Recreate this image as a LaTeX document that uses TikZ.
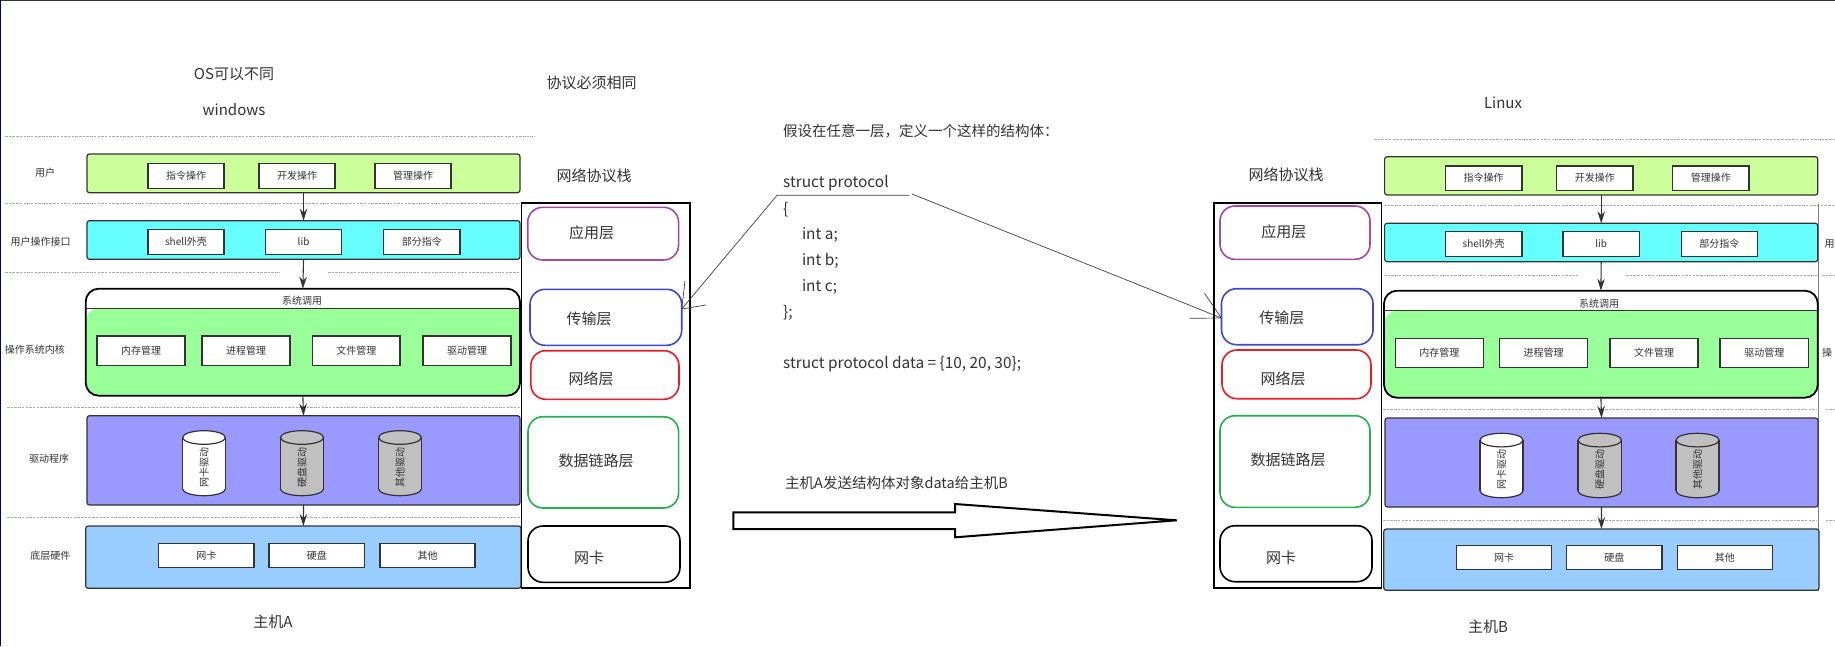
\documentclass[tikz,border=0pt]{standalone}
\usepackage{fontspec}
\setmainfont{Noto Sans CJK SC}
\usetikzlibrary{arrows.meta}
\definecolor{ink}{HTML}{333333}
\definecolor{lime}{HTML}{CCFF99}
\definecolor{aqua}{HTML}{66FFFF}
\definecolor{mint}{HTML}{99FF99}
\definecolor{violet2}{HTML}{9999FF}
\definecolor{sky}{HTML}{99CCFF}
\definecolor{cylgray}{HTML}{C0C0C0}
\definecolor{lapp}{HTML}{A349A4}
\definecolor{ltrs}{HTML}{3F48CC}
\definecolor{lnet}{HTML}{ED1C24}
\definecolor{ldl}{HTML}{22B14C}
\newcommand{\fs}[1]{\fontsize{#1}{#1}\selectfont}
\newcommand{\bx}[7]{%
  \pgfmathsetmacro{\bw}{#5-#3}\pgfmathsetmacro{\bh}{#6-#4}%
  \node[#2,minimum width=\bw pt,minimum height=\bh pt] (#1) at ({(#3+#5)/2},{(#4+#6)/2}) {#7};}
% name, fill, x1, x2, y1, y2, text
\newcommand{\cyl}[7]{%
  \pgfmathsetmacro{\cxc}{(#3+#4)/2}\pgfmathsetmacro{\crx}{(#4-#3)/2}%
  \pgfmathsetmacro{\cyt}{#5+6.8}\pgfmathsetmacro{\cyb}{#6-6.8}\pgfmathsetmacro{\cym}{(#5+#6)/2+4}%
  \draw[cylline,fill=#2] (\cxc,\cyb) ellipse [x radius=\crx pt,y radius=6.8pt];
  \fill[#2] (#3,\cyt) rectangle (#4,\cyb);
  \draw[cylline] (#3,\cyt) -- (#3,\cyb) (#4,\cyt) -- (#4,\cyb);
  \draw[cylline,fill=#2] (\cxc,\cyt) ellipse [x radius=\crx pt,y radius=6.8pt];
  \node[label,rotate=90] (#1) at (\cxc,\cym) {#7};}
\tikzset{
  band/.style={draw=ink,line width=1.2pt,rounded corners=2.5pt,inner sep=0pt,outer sep=0pt},
  inbox/.style={draw=ink,line width=1.2pt,fill=white,inner sep=0pt,outer sep=0pt,font=\fs{10},text=ink},
  layer/.style={line width=1.6pt,rounded corners=15pt,inner sep=0pt,outer sep=0pt},
  label/.style={font=\fs{10},text=ink,inner sep=0pt},
  title/.style={font=\fs{15},text=ink,inner sep=0pt},
  code/.style={font=\fs{14.5},text=ink,inner sep=0pt,anchor=west},
  codel/.style={font=\fs{15.4},text=ink,inner sep=0pt,anchor=west},
  divider/.style={draw=black!33,line width=0.8pt,dash pattern=on 2.5pt off 1.2pt},
  flow/.style={draw=ink,line width=1.1pt,-{Stealth[length=12pt,width=7.5pt]}},
  stackframe/.style={draw=black,line width=1.8pt,inner sep=0pt,outer sep=0pt},
  thin pointer/.style={draw=black!75,line width=0.7pt},
  cylline/.style={draw=ink,line width=1.2pt},
}
\begin{document}
\begin{tikzpicture}[x=1pt,y=-1pt]
\useasboundingbox (0,0) rectangle (1835,646);
\clip (0,0) rectangle (1835,646);
\fill[white] (0,0) rectangle (1835,646);
% frame edges of the screenshot
\draw[draw=black!80,line width=1.6pt] (0,0.5) -- (1835,0.5);
\draw[draw=blue!40!black,line width=1.6pt] (0.5,0) -- (0.5,646);

% ---------- host A ----------
\node[title] (osA) at (234,74) {OS可以不同};
\node[title] (winA) at (234,110) {windows};
\node[title] (protoT) at (591.5,83) {协议必须相同};
\draw[divider] (5,136.7) -- (535,136.7);
\draw[divider] (5,203) -- (520,203);
\draw[divider] (5,272) -- (280,272);
\draw[divider] (328,272) -- (520,272);
\draw[divider] (7,407.3) -- (520,407.3);
\draw[divider] (7,517.7) -- (520,517.7);

\bx{gA}{band,fill=lime}{87}{154}{520}{192.7}{}
\bx{gA1}{inbox}{148}{163.3}{224}{188.3}{指令操作}
\bx{gA2}{inbox}{259}{163.3}{335}{188.3}{开发操作}
\bx{gA3}{inbox}{375}{163.3}{451}{188.3}{管理操作}
\node[label] (lA1) at (45,173) {用户};

\bx{cA}{band,fill=aqua}{87}{220.7}{520}{259.3}{}
\bx{cA1}{inbox}{148}{229.3}{224}{254.3}{shell外壳}
\bx{cA2}{inbox}{265.6}{229.3}{341.5}{254.3}{lib}
\bx{cA3}{inbox}{383.5}{229.3}{460}{254.3}{部分指令}
\node[label] (lA2) at (40.6,242) {用户操作接口};

\fill[white,rounded corners=13pt] (85.7,288.7) rectangle (520,330);
\fill[mint,rounded corners=13pt] (85.7,308.3) [sharp corners] -- (520,308.3) [rounded corners=13pt] -- (520,395.7) -- (85.7,395.7) -- cycle;
\bx{kA}{draw=black,line width=1.8pt,rounded corners=13pt,inner sep=0pt,outer sep=0pt}{85.7}{288.7}{520}{395.7}{}
\draw[draw=ink,line width=1.2pt] (85.7,308.3) -- (520,308.3);
\node[label] (sA) at (302,301) {系统调用};
\bx{kA1}{inbox}{97}{336}{185}{365.3}{内存管理}
\bx{kA2}{inbox}{202}{336}{290}{365.3}{进程管理}
\bx{kA3}{inbox}{312.5}{336}{400}{365.3}{文件管理}
\bx{kA4}{inbox}{423}{336}{511}{365.3}{驱动管理}
\node[label] (lA3) at (35,350) {操作系统内核};

\bx{dA}{band,fill=violet2}{87}{415.7}{520}{505}{}
\cyl{tA1}{white}{182.6}{225.4}{430.7}{495.7}{网卡驱动}
\cyl{tA2}{cylgray}{280.4}{323.6}{430.7}{495.7}{硬盘驱动}
\cyl{tA3}{cylgray}{378.6}{421.4}{430.7}{495.7}{其他驱动}
\node[label] (lA4) at (49,458.7) {驱动程序};

\bx{hA}{band,fill=sky}{85.7}{526}{521}{588.3}{}
\bx{hA1}{inbox}{158.5}{543.3}{254}{567.3}{网卡}
\bx{hA2}{inbox}{269}{543.3}{364.7}{567.3}{硬盘}
\bx{hA3}{inbox}{380}{543.3}{475}{567.3}{其他}
\node[label] (lA5) at (50.4,555.3) {底层硬件};
\node[title] (hostA) at (273,621.3) {主机A};

\draw[flow] (gA.south) -- (cA.north);
\draw[flow] (cA.south) -- (kA.north);
\draw[flow] (kA.south) -- (dA.north);
\draw[flow] (dA.south) -- (hA.north);

% stack A
\node[title] (netA) at (594,175.7) {网络协议栈};
\bx{stA}{stackframe}{521.4}{202.7}{689.7}{588.3}{}
\bx{appA}{layer,draw=lapp}{527.7}{207.3}{678.6}{260}{}
\bx{trsA}{layer,draw=ltrs}{530}{289.3}{681.7}{345.3}{}
\bx{netlA}{layer,draw=lnet}{530.8}{350.7}{679}{399.3}{}
\bx{dlA}{layer,draw=ldl}{528}{416.7}{678.6}{508}{}
\bx{nicA}{layer,draw=black}{528}{526}{680}{582.3}{}
\node[title] at (591.5,233.3) {应用层};
\node[title] at (589,319) {传输层};
\node[title] at (591,378.7) {网络层};
\node[title] at (596,460.7) {数据链路层};
\node[title] at (589,557.7) {网卡};

% ---------- middle ----------
\node[code] (m0) at (783,130.7) {假设在任意一层\symbol{"FF0C}定义一个这样的结构体\symbol{"FF1A}};
\node[codel] (m1) at (783,183.3) {struct protocol};
\node[codel] (m2) at (783,209.3) {\{};
\node[codel] (m3) at (801.8,235) {int a;};
\node[codel] (m4) at (801.8,260.7) {int b;};
\node[codel] (m5) at (801.8,286.7) {int c;};
\node[codel] (m6) at (783,313.3) {\};};
\node[codel] (m7) at (783,364.3) {struct protocol data = \{10, 20, 30\};};
\node[code] (m8) at (785,482.7) {主机A发送结构体对象data给主机B};

\coordinate (u1) at (777,195.3);
\coordinate (u2) at (909,195.3);
\coordinate (u3) at (912,194);
\coordinate (tipA) at (681.7,309);
\coordinate (tipB) at (1221.4,318);
\coordinate (bA1) at (685,281);
\coordinate (bA2) at (706,305);
\coordinate (bB1) at (1204.5,293.3);
\coordinate (bB2) at (1189.7,318.3);
\draw[thin pointer] (tipA) -- (u1) -- (u2);
\draw[thin pointer] (u3) -- (tipB);
\draw[thin pointer] (bA1) -- (tipA) -- (bA2);
\draw[thin pointer] (bB1) -- (tipB) -- (bB2);

\draw[draw=black,line width=2pt,fill=white,line join=miter]
  (733.3,512.3) -- (955,512.3) -- (955,504) -- (1176.7,520.3) -- (955,537.3) -- (955,529) -- (733.3,529) -- cycle;

% ---------- stack B ----------
\node[title] (netB) at (1286,175) {网络协议栈};
\bx{stB}{stackframe}{1213.8}{202.7}{1381.4}{588}{}
\bx{appB}{layer,draw=lapp}{1220}{206}{1370}{259.3}{}
\bx{trsB}{layer,draw=ltrs}{1221.5}{288.7}{1373}{344.7}{}
\bx{netlB}{layer,draw=lnet}{1222}{350}{1371}{398.7}{}
\bx{dlB}{layer,draw=ldl}{1220}{415.7}{1370}{507.3}{}
\bx{nicB}{layer,draw=black}{1220}{525.7}{1372}{581.7}{}
\node[title] at (1283.8,232.3) {应用层};
\node[title] at (1281.8,318.3) {传输层};
\node[title] at (1283,378.3) {网络层};
\node[title] at (1288,460) {数据链路层};
\node[title] at (1281,557.3) {网卡};

% ---------- host B ----------
\node[title] (linuxB) at (1503,102.3) {Linux};
\draw[divider] (1374,139) -- (1835,139);
\draw[divider] (1384,205.7) -- (1835,205.7);
\draw[divider] (1384,275) -- (1578,275);
\draw[divider] (1626,275) -- (1817,275);
\draw[divider] (1822,275) -- (1835,275);
\draw[divider] (1383,409.3) -- (1817,409.3);
\draw[divider] (1825.5,409.3) -- (1835,409.3);
\draw[divider] (1383,520.3) -- (1817,520.3);
\draw[divider] (1825.5,520.3) -- (1835,520.3);
\draw[draw=black!50,line width=0.6pt] (1818.2,204) -- (1818.2,591);

\bx{gB}{band,fill=lime}{1384.6}{156.7}{1817.8}{195}{}
\bx{gB1}{inbox}{1445.3}{166}{1521.9}{190.3}{指令操作}
\bx{gB2}{inbox}{1556.7}{166}{1633}{190.3}{开发操作}
\bx{gB3}{inbox}{1672.5}{166}{1749}{190.3}{管理操作}

\bx{cB}{band,fill=aqua}{1384.6}{223.3}{1817.8}{261.7}{}
\bx{cB1}{inbox}{1445.3}{231.7}{1521.9}{256.3}{shell外壳}
\bx{cB2}{inbox}{1563}{231.7}{1639.3}{256.3}{lib}
\bx{cB3}{inbox}{1681.4}{231.7}{1757.5}{256.3}{部分指令}
\node[label,anchor=west] (lB2) at (1824.5,244.3) {用};

\fill[white,rounded corners=13pt] (1384,290.7) rectangle (1817.8,330);
\fill[mint,rounded corners=13pt] (1384,310.7) [sharp corners] -- (1817.8,310.7) [rounded corners=13pt] -- (1817.8,397.7) -- (1384,397.7) -- cycle;
\bx{kB}{draw=black,line width=1.8pt,rounded corners=13pt,inner sep=0pt,outer sep=0pt}{1384}{290.7}{1817.8}{397.7}{}
\draw[draw=ink,line width=1.2pt] (1384,310.7) -- (1817.8,310.7);
\node[label] (sB) at (1599,303.3) {系统调用};
\bx{kB1}{inbox}{1395.5}{338.7}{1483.4}{367.3}{内存管理}
\bx{kB2}{inbox}{1499.6}{338.7}{1587.4}{367.3}{进程管理}
\bx{kB3}{inbox}{1610}{338.7}{1698}{367.3}{文件管理}
\bx{kB4}{inbox}{1720}{338.7}{1808.5}{367.3}{驱动管理}
\node[label,anchor=west] (lB3) at (1822,352.3) {操};

\bx{dB}{band,fill=violet2}{1385}{418}{1818}{507}{}
\cyl{tB1}{white}{1480}{1523}{433.3}{497.7}{网卡驱动}
\cyl{tB2}{cylgray}{1578}{1621.5}{433.3}{497.7}{硬盘驱动}
\cyl{tB3}{cylgray}{1676}{1719}{433.3}{497.7}{其他驱动}

\bx{hB}{band,fill=sky}{1383.8}{529}{1819}{590.3}{}
\bx{hB1}{inbox}{1456.3}{545.7}{1551.8}{569.7}{网卡}
\bx{hB2}{inbox}{1566.8}{545.7}{1662}{569.7}{硬盘}
\bx{hB3}{inbox}{1677.3}{545.7}{1772.5}{569.7}{其他}
\node[title] (hostB) at (1488,626.3) {主机B};

\draw[flow] (gB.south) -- (cB.north);
\draw[flow] (cB.south) -- (kB.north);
\draw[flow] (kB.south) -- (dB.north);
\draw[flow] (dB.south) -- (hB.north);
\end{tikzpicture}
\end{document}
